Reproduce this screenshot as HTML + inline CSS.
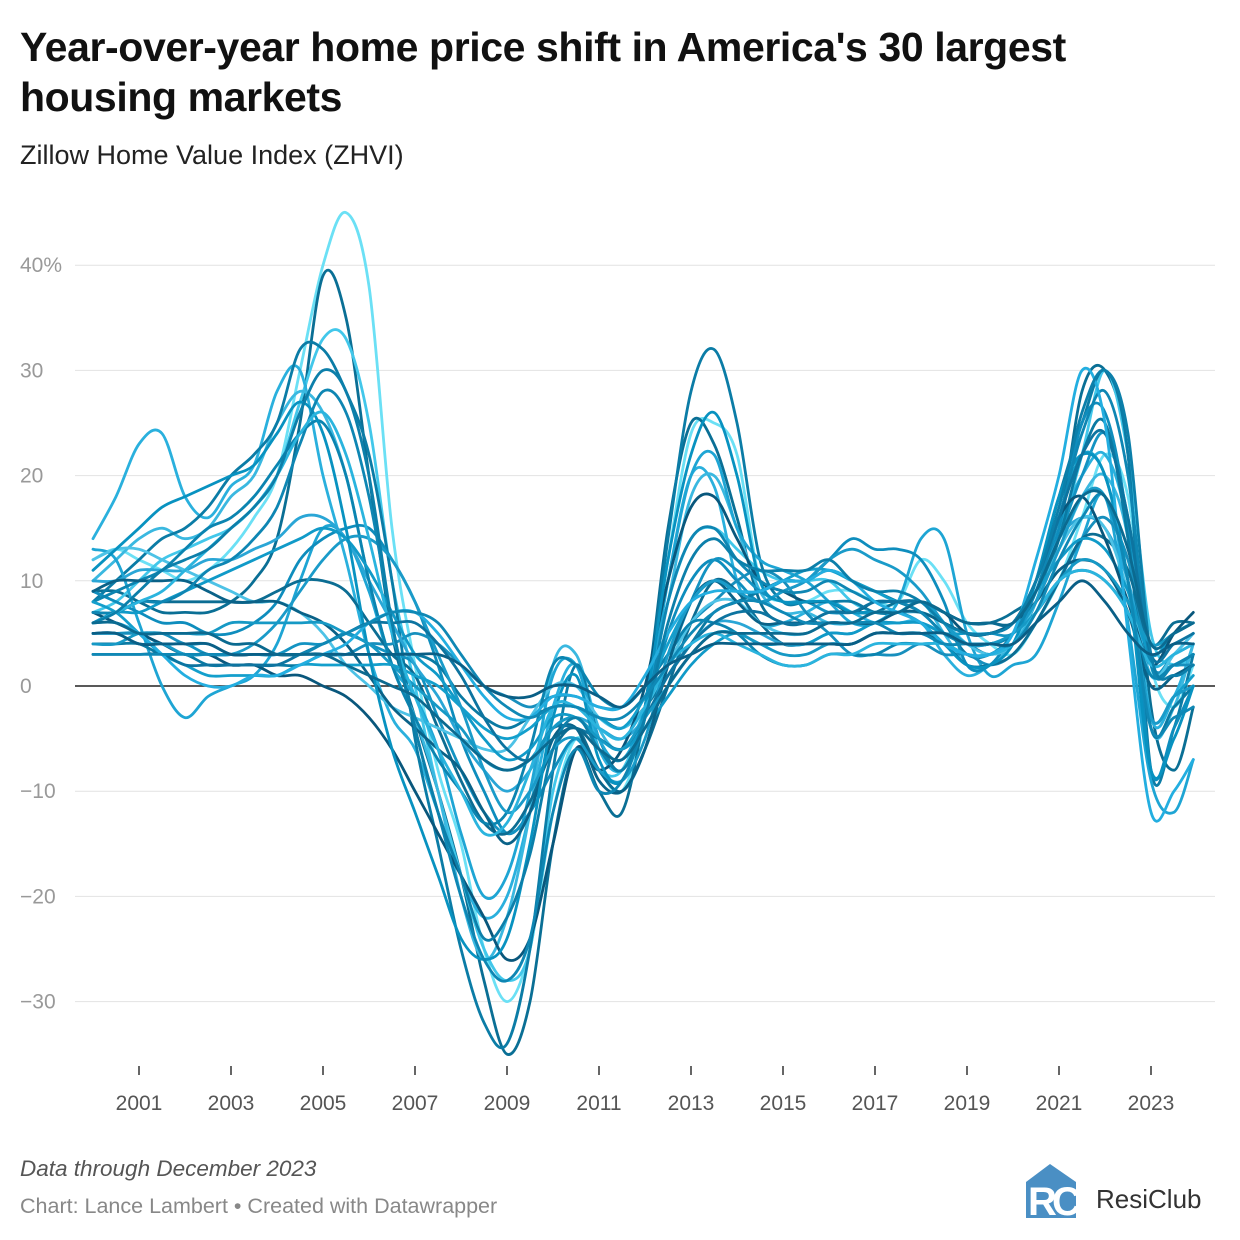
<!DOCTYPE html>
<html><head><meta charset="utf-8">
<style>
body{margin:0;background:#fff;font-family:"Liberation Sans",Arial,sans-serif;}
#wrap{position:relative;width:1240px;height:1240px;overflow:hidden;}
h1{position:absolute;left:20px;top:22px;margin:0;font-size:41px;line-height:50px;font-weight:bold;color:#111;width:1110px;letter-spacing:-0.4px}
.sub{position:absolute;left:20px;top:140px;font-size:27px;color:#222}
.f1{position:absolute;left:20px;top:1156px;font-size:22.5px;font-style:italic;color:#555}
.f2{position:absolute;left:20px;top:1194px;font-size:21.5px;color:#888}
</style></head><body>
<div id="wrap">
<h1>Year-over-year home price shift in America's 30 largest housing markets</h1>
<div class="sub">Zillow Home Value Index (ZHVI)</div>
<svg id="chart" width="1240" height="1240" style="position:absolute;left:0;top:0"></svg>
<div class="f1">Data through December 2023</div>
<div class="f2">Chart: Lance Lambert • Created with Datawrapper</div>
<svg width="200" height="70" style="position:absolute;left:1020px;top:1160px">
<polygon points="6,22 30,4 56,22 56,58 6,58" fill="#4a8fc4"/>
<text x="8" y="55" font-size="40" font-weight="bold" fill="#fff" font-family="Liberation Sans">R</text>
<text x="32" y="55" font-size="40" font-weight="bold" fill="#fff" font-family="Liberation Sans">C</text>
<text x="76" y="48" font-size="26" fill="#333" font-family="Liberation Sans">ResiClub</text>
</svg>
</div>
<script>
const times=[];for(let i=0;i<48;i++)times.push(2000+i*0.5);times.push(2023.92);
const yTicks=[40,30,20,10,0,-10,-20,-30];
const xTickYears=[2001,2003,2005,2007,2009,2011,2013,2015,2017,2019,2021,2023];
const s1=[12,13,12,11,10,11,13,16,20,30,40,45,38,15,2,-8,-15,-25,-30,-25,-12,-5,-8,-10,-3,12,24,25,22,10,8,8,9,9,8,8,12,10,6,4,3,6,10,16,22,18,2,-2,2];
const s2=[9,9,8,7,7,7,8,10,14,25,39,35,20,5,-3,-10,-18,-28,-35,-30,-15,-6,-10,-12,-2,15,25,23,16,8,6,6,7,7,7,8,8,7,6,6,7,9,15,28,30,22,-2,-8,-2];
const s3=[7,8,10,12,13,14,15,17,20,27,33,33,25,10,0,-10,-18,-25,-28,-25,-10,-5,-8,-8,-2,8,14,15,13,11,10,10,10,8,7,7,6,5,4,4,5,8,14,22,30,22,5,2,3];
const s4=[14,18,23,24,18,16,19,21,28,30,20,12,3,-3,-6,-12,-18,-22,-20,-12,-2,2,-6,-8,-3,10,20,19,10,6,6,7,8,7,6,6,6,3,1,2,4,8,15,20,22,15,-3,-1,4];
const s5=[10,12,14,15,14,15,18,20,25,28,26,20,10,2,-3,-10,-20,-26,-22,-12,2,3,-4,-6,-2,8,18,20,15,9,7,7,6,6,7,7,8,5,2,2,4,8,13,18,20,14,-4,-2,4];
const s6=[8,10,12,14,15,17,20,22,25,32,32,28,22,10,-5,-15,-25,-32,-34,-25,-8,2,-5,-8,-2,14,28,32,25,12,8,8,8,8,7,7,8,6,3,3,5,10,18,25,30,22,-8,-4,3];
const s7=[13,12,6,0,-3,-1,0,1,4,10,15,14,9,2,-1,-6,-14,-20,-18,-10,1,2,-5,-7,-2,10,20,22,15,12,11,10,8,6,6,8,14,14,5,1,2,3,8,14,18,6,-9,-12,-7];
const s8=[9,8,7,6,6,5,5,6,8,12,14,15,15,12,8,2,-5,-10,-14,-12,-8,-5,-8,-9,-3,5,10,12,10,8,9,10,12,14,13,13,12,8,2,2,5,9,15,25,26,15,-8,-4,0];
const s9=[5,5,5,4,4,3,3,3,3,4,4,5,4,3,2,-3,-8,-12,-14,-12,-5,-4,-8,-10,-6,2,8,12,11,9,8,8,7,7,7,7,7,6,5,5,5,8,14,20,24,16,2,3,4];
const s10=[4,4,4,3,3,2,2,2,2,2,3,3,3,3,3,2,-1,-3,-4,-3,-2,-2,-3,-4,-2,1,4,7,8,9,10,10,11,10,9,8,7,5,4,3,4,8,14,22,25,14,-4,-2,0];
const s11=[5,5,5,5,4,4,3,3,3,3,3,3,4,4,5,4,2,0,-1,-2,-1,-1,-2,-2,0,3,6,8,10,11,10,7,5,3,3,3,4,3,3,2,3,6,10,14,16,12,2,2,2];
const s12=[7,7,8,8,8,8,8,8,9,10,10,9,6,3,1,-4,-9,-13,-14,-11,-6,-4,-8,-10,-6,0,6,10,9,6,4,4,4,4,5,5,5,4,2,2,3,6,10,14,14,11,4,6,6];
const s13=[10,10,11,11,11,12,12,13,14,16,16,14,10,6,2,-1,-5,-8,-10,-8,-4,-3,-4,-5,-3,1,4,6,6,5,4,4,5,5,6,6,6,5,4,4,5,9,14,16,15,10,1,3,5];
const s14=[12,13,13,12,11,10,9,8,8,7,5,2,0,-2,-3,-4,-5,-6,-6,-3,0,0,-3,-4,-2,2,6,8,8,6,5,5,6,6,7,7,7,6,4,3,4,8,13,16,15,9,1,3,5];
const s15=[8,9,10,11,13,15,16,18,21,24,25,20,10,2,-3,-7,-10,-13,-12,-6,2,2,-1,-2,0,3,6,6,5,3,2,2,3,3,3,4,4,4,3,3,4,7,10,11,10,7,1,2,3];
const s16=[6,7,7,8,9,10,11,12,13,14,15,14,11,7,3,1,-2,-5,-7,-6,-3,-3,-5,-6,-4,-1,2,4,5,4,4,4,5,5,6,6,6,5,5,5,6,9,12,14,13,9,3,5,6];
const s17=[9,10,10,10,10,9,8,8,8,7,6,4,1,-2,-4,-6,-8,-12,-15,-12,-5,-4,-9,-10,-6,2,8,10,8,6,6,6,6,6,6,7,7,6,5,5,6,8,11,12,11,7,0,1,2];
const s18=[7,6,5,4,3,3,2,2,1,1,0,-1,-3,-6,-10,-14,-18,-22,-26,-24,-15,-6,-8,-6,0,10,17,18,14,10,9,8,8,7,8,8,8,7,5,5,6,10,16,18,14,8,2,5,7];
const s19=[8,7,5,3,2,1,1,1,1,2,2,2,2,2,1,0,-2,-4,-5,-4,-2,-2,-3,-4,-1,4,8,10,9,9,10,11,11,10,9,8,8,6,4,4,5,9,16,22,20,10,-3,-1,1];
const s20=[5,5,4,4,3,3,3,4,6,9,12,14,14,12,8,3,-2,-8,-12,-10,-6,-5,-8,-9,-5,3,8,10,9,8,9,10,12,13,12,11,9,6,4,4,5,8,13,18,18,10,-3,-1,0];
const s21=[11,13,15,17,18,19,20,21,24,27,24,15,3,-6,-12,-18,-24,-26,-24,-15,-3,1,-7,-9,-2,12,22,26,20,10,8,8,8,7,7,7,6,4,2,2,4,10,18,22,20,10,-8,-5,0];
const s22=[7,7,8,8,9,11,12,14,17,23,28,26,18,6,-4,-12,-20,-26,-28,-24,-12,-6,-10,-9,-3,8,14,15,12,10,9,9,10,9,8,8,7,5,4,4,5,9,16,24,28,20,2,2,3];
const s23=[3,3,3,3,2,2,2,2,2,3,4,5,6,6,6,4,1,-3,-6,-7,-4,-4,-5,-6,-3,1,4,6,7,7,6,6,7,7,8,8,8,7,6,6,6,10,16,22,24,16,3,4,5];
const s24=[4,4,5,5,5,5,6,6,6,6,6,5,4,2,0,-2,-4,-7,-8,-7,-4,-3,-5,-6,-3,0,3,5,5,4,3,3,4,4,5,5,5,5,4,4,5,7,10,12,11,8,4,5,6];
const s25=[6,7,8,9,11,13,15,17,20,24,26,22,14,5,-1,-6,-10,-14,-13,-8,-2,-2,-4,-5,-2,2,4,5,4,3,2,2,3,3,4,4,4,4,3,3,4,7,10,11,10,7,2,3,4];
const s26=[6,6,5,3,1,0,0,1,1,2,3,4,6,7,7,5,2,-1,-3,-3,-1,-1,-2,-2,1,5,8,9,9,9,10,10,11,10,8,7,6,4,3,3,5,12,20,30,25,5,-12,-10,-7];
const s27=[6,7,9,11,12,13,15,17,20,26,30,28,20,6,-4,-12,-18,-24,-22,-16,-6,-3,-6,-8,-3,6,12,14,12,11,11,11,12,10,9,9,8,6,5,5,6,10,17,26,30,24,3,1,2];
const s28=[3,3,3,3,3,3,3,3,3,3,4,5,6,7,7,6,3,0,-2,-3,-2,-2,-3,-3,-1,2,5,7,8,8,7,6,6,6,6,5,5,4,4,4,4,7,12,16,18,10,-4,-3,-2];
const s29=[5,5,4,4,4,4,3,3,3,3,3,3,3,3,3,3,2,0,-1,-1,0,0,-1,-2,0,2,3,4,4,4,4,4,4,4,5,5,5,5,4,4,4,6,8,10,8,5,3,4,4];
const s30=[6,6,5,5,5,5,4,4,3,3,3,2,1,0,-1,-3,-5,-7,-8,-7,-5,-4,-6,-7,-4,0,3,5,5,5,5,5,6,6,7,7,8,7,6,6,6,9,14,18,18,13,4,5,6];
const seriesList=[s1,s2,s3,s4,s5,s6,s7,s8,s9,s10,s11,s12,s13,s14,s15,s16,s17,s18,s19,s20,s21,s22,s23,s24,s25,s26,s27,s28,s29,s30];
const colors=["#6be0f5","#0a6f95","#42c7ea","#2ab0dd","#3ab8e0","#0b7ca6","#1ea5d4","#0e8dbd","#1393c2","#0a7aa3","#178fbd","#0c6d93","#2aa6d6","#4dc2e6","#0b84b0","#109ac8","#0a6288","#09577c","#139fcc","#1a9bc9","#0892c0","#0e86b3","#0d74a0","#1699c5","#2ab4de","#23aee0","#0c7faa","#0f88b5","#0a5f86","#0b6a90"];
const NS="http://www.w3.org/2000/svg";
const svg=document.getElementById('chart');
const xS=t=>139+(t-2001)*46;
const yS=v=>686-v*10.52;
function mk(tag,attrs){const e=document.createElementNS(NS,tag);for(const k in attrs)e.setAttribute(k,attrs[k]);svg.appendChild(e);return e;}
yTicks.forEach(v=>{
 const l=mk('line',{x1:75,x2:1215,y1:yS(v),y2:yS(v),stroke:v===0?'#222':'#e2e2e2','stroke-width':v===0?1.5:1});
 
 
 const t=mk('text',{x:20,y:yS(v)+7,'font-size':21,fill:'#999','font-family':'Liberation Sans'});
 t.textContent=v===40?'40%':(v<0?'\u2212'+(-v):String(v));
 
 
});
xTickYears.forEach(y=>{
 const l=mk('line',{x1:xS(y),x2:xS(y),y1:1066,y2:1075,stroke:'#333','stroke-width':1.5});
 
 
 const t=mk('text',{x:xS(y),y:1110,'font-size':21,fill:'#555','text-anchor':'middle','font-family':'Liberation Sans'});
 t.textContent=String(y);
 
 
});
function smoothPath(pts){
 let d='M'+pts[0][0].toFixed(1)+' '+pts[0][1].toFixed(1);
 for(let i=0;i<pts.length-1;i++){
  const p0=pts[Math.max(0,i-1)],p1=pts[i],p2=pts[i+1],p3=pts[Math.min(pts.length-1,i+2)];
  const c1x=p1[0]+(p2[0]-p0[0])/6,c1y=p1[1]+(p2[1]-p0[1])/6;
  const c2x=p2[0]-(p3[0]-p1[0])/6,c2y=p2[1]-(p3[1]-p1[1])/6;
  d+=' C'+c1x.toFixed(1)+' '+c1y.toFixed(1)+' '+c2x.toFixed(1)+' '+c2y.toFixed(1)+' '+p2[0].toFixed(1)+' '+p2[1].toFixed(1);
 }
 return d;
}
seriesList.forEach((s,i)=>{
 const pts=s.map((v,j)=>[xS(times[j]),yS(v)]);
 const p=mk('path',{d:smoothPath(pts),fill:'none',stroke:colors[i],'stroke-width':2.8,'stroke-linejoin':'round','stroke-linecap':'round'});
 
 
});
</script>
</body></html>
